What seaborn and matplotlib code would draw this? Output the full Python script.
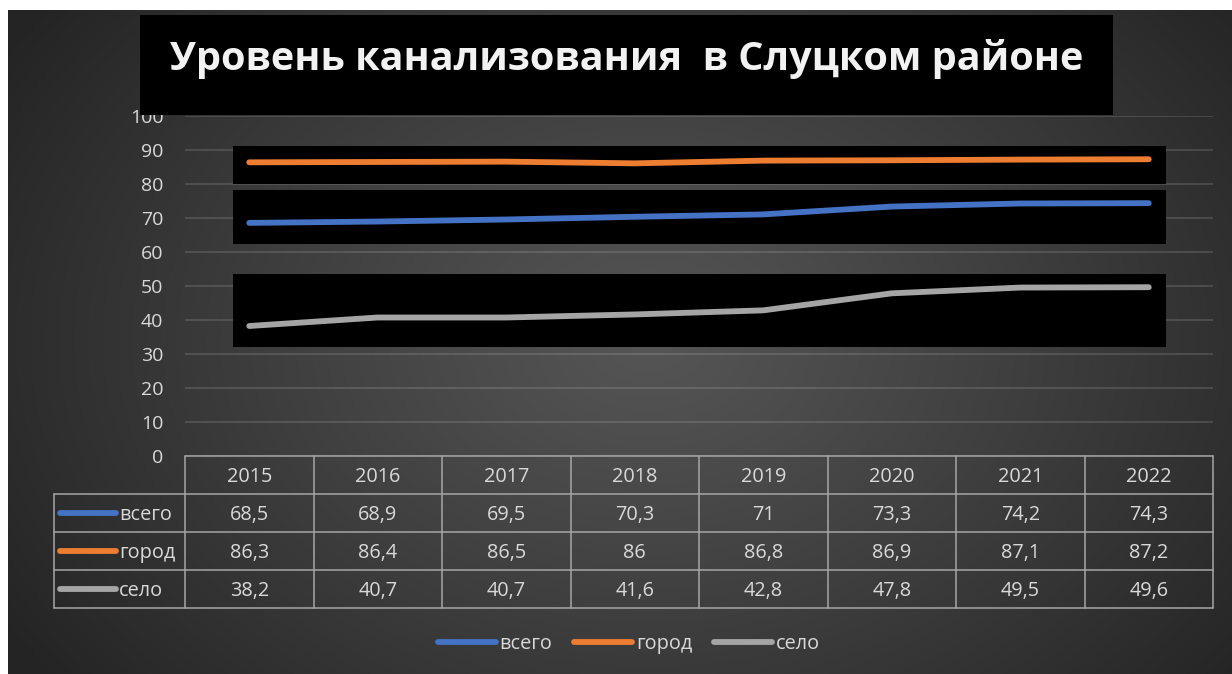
import numpy as np
import pandas as pd
import matplotlib
matplotlib.use("Agg")
import matplotlib.pyplot as plt
from matplotlib.patches import Rectangle
import seaborn as sns

# ---- data ----
years = ["2015", "2016", "2017", "2018", "2019", "2020", "2021", "2022"]
vsego = [68.5, 68.9, 69.5, 70.3, 71.0, 73.3, 74.2, 74.3]
gorod = [86.3, 86.4, 86.5, 86.0, 86.8, 86.9, 87.1, 87.2]
selo = [38.2, 40.7, 40.7, 41.6, 42.8, 47.8, 49.5, 49.6]
series_names = ["всего", "город", "село"]
y_ticks = [0, 10, 20, 30, 40, 50, 60, 70, 80, 90, 100]
title = "Уровень канализования  в Слуцком районе"

colors = {"всего": "#4472C4", "город": "#ED7D31", "село": "#A5A5A5"}
series_vals = {"всего": vsego, "город": gorod, "село": selo}

rows = []
for name in series_names:
    for i, (y, v) in enumerate(zip(years, series_vals[name])):
        rows.append({"idx": i, "year": y, "series": name, "value": v})
df = pd.DataFrame(rows)

sns.set_theme(style="white")
FONT = ["Open Sans", "DejaVu Sans"]
plt.rcParams["font.family"] = FONT
TXT = "#d9d9d9"

W, H = 1232, 674
fig = plt.figure(figsize=(W / 100, H / 100), dpi=100, facecolor="white")

def px_rect(x0, y0, x1, y1):
    return [x0 / W, (H - y1) / H, (x1 - x0) / W, (y1 - y0) / H]

# ---- background radial gradient ----
bg = fig.add_axes(px_rect(8, 10, W, H))
bg.set_zorder(-10)
gy, gx = np.mgrid[0:664, 0:1224]
cx, cy = 640, 330
d = np.sqrt(((gx - cx) / 760.0) ** 2 + ((gy - cy) / 560.0) ** 2)
d = np.clip(d, 0, 1)
c0 = np.array([0x55, 0x55, 0x55]) / 255.0
c1 = np.array([0x24, 0x24, 0x24]) / 255.0
img = c0[None, None, :] * (1 - d[..., None] ** 1.1) + c1[None, None, :] * (d[..., None] ** 1.1)
bg.imshow(img, aspect="auto", extent=(0, 1, 0, 1), interpolation="bilinear")
bg.axis("off")

# ---- main axes ----
ax = fig.add_axes(px_rect(185, 115.7, 1213, 456))
ax.set_facecolor("none")
ax.set_xlim(-0.5, 7.5)
ax.set_ylim(0, 100)
for s in ax.spines.values():
    s.set_visible(False)
ax.set_yticks(y_ticks)
ax.set_yticklabels([str(t) for t in y_ticks], color=TXT, fontsize=14)
ax.set_xticks([])
ax.tick_params(axis="y", length=0, pad=15.5)
ax.grid(axis="y", color="#d9d9d9", alpha=0.16, lw=1.4)
ax.set_axisbelow(True)

# black boxes behind the lines (pixel layout -> data coords)
def px2data(px, py):
    return (px - 185) / 128.5 - 0.5, (456 - py) / 3.4

for (x0, y0, x1, y1) in [(233, 146, 1166, 184), (233, 190, 1166, 244), (233, 274, 1166, 347)]:
    dx0, dy0 = px2data(x0, y1)
    dx1, dy1 = px2data(x1, y0)
    ax.add_patch(Rectangle((dx0, dy0), dx1 - dx0, dy1 - dy0, facecolor="black",
                           edgecolor="none", zorder=1.5))

sns.lineplot(data=df, x="idx", y="value", hue="series", hue_order=series_names,
             palette=colors, linewidth=4.2, ax=ax, solid_capstyle="round",
             zorder=3, legend=True)
handles, labels = ax.get_legend_handles_labels()
ax.get_legend().remove()
ax.set_xlabel("")
ax.set_ylabel("")
ax.set_xlim(-0.5, 7.5)
ax.set_ylim(0, 100)

# ---- data table ----
tab = fig.add_axes(px_rect(54, 456, 1213, 608))
tab.set_facecolor("none")
lx = (54 - 185) / 128.5 - 0.5
tab.set_xlim(lx, 7.5)
tab.set_ylim(4, 0)
tab.axis("off")
LC = "#a6a6a6"
LW = 1.1
tab.plot([-0.5, 7.5], [0, 0], color=LC, lw=LW, clip_on=False)
for r in range(1, 5):
    tab.plot([lx, 7.5], [r, r], color=LC, lw=LW, clip_on=False)
for k in range(9):
    tab.plot([-0.5 + k, -0.5 + k], [0, 4], color=LC, lw=LW, clip_on=False)
tab.plot([lx, lx], [1, 4], color=LC, lw=LW, clip_on=False)

for i, y in enumerate(years):
    tab.text(i, 0.55, y, ha="center", va="center", color=TXT, fontsize=14.3)

def fmt(v):
    s = f"{v:g}"
    return s.replace(".", ",")

kx0 = (60 - 185) / 128.5 - 0.5
kx1 = (116 - 185) / 128.5 - 0.5
tx = (119 - 185) / 128.5 - 0.5
for r, name in enumerate(series_names, start=1):
    tab.plot([kx0, kx1], [r + 0.5, r + 0.5], color=colors[name], lw=4.2,
             solid_capstyle="round", clip_on=False)
    tab.text(tx, r + 0.55, name, ha="left", va="center", color=TXT, fontsize=14.3)
    for i, v in enumerate(series_vals[name]):
        tab.text(i, r + 0.55, fmt(v), ha="center", va="center", color=TXT, fontsize=14.3)

# ---- legend ----
fig.legend(handles, labels, loc="center", bbox_to_anchor=(629 / W, (H - 644) / H),
           ncol=3, frameon=False, fontsize=14.3, labelcolor=TXT,
           handlelength=2.9, handletextpad=0.2, columnspacing=1.1)

# ---- title box ----
tb = fig.add_axes(px_rect(140, 15, 1113, 115))
tb.set_zorder(5)
tb.set_facecolor("black")
tb.set_xticks([])
tb.set_yticks([])
for s in tb.spines.values():
    s.set_visible(False)
tb.text(0.5, 0.45, title, ha="center", va="baseline", fontsize=28.5,
        fontweight="bold", color="#f2f2f2", transform=tb.transAxes)

fig.savefig("out.png", dpi=100, facecolor="white")
